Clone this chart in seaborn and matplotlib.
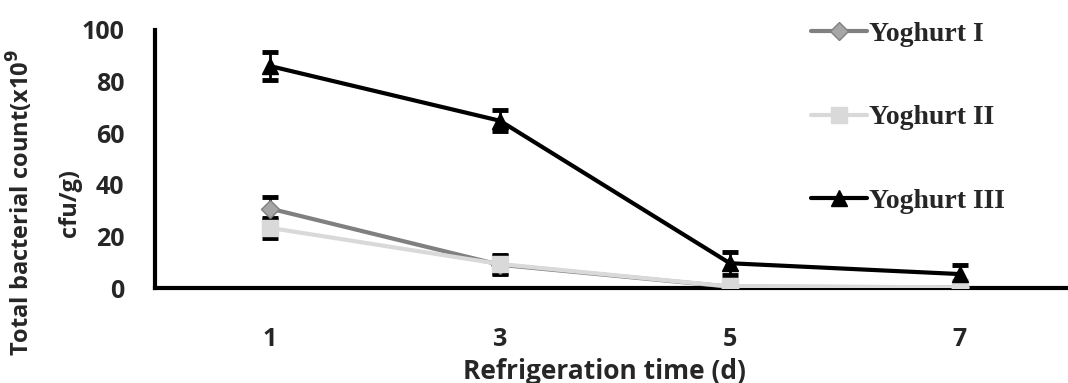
import matplotlib
matplotlib.use("Agg")
import matplotlib.pyplot as plt
import seaborn as sns
import pandas as pd
from matplotlib.lines import Line2D

# Refrigeration days and bacterial counts (x10^9 cfu/g), mean and error
days = [1, 3, 5, 7]
yoghurt_1 = [30.8, 9.0, 0.5, 0.3]
yoghurt_2 = [23.3, 9.3, 0.6, 0.3]
yoghurt_3 = [86.0, 64.8, 9.6, 5.4]
err_1 = [4.5, 3.5, 0.5, 0.3]
err_2 = [4.0, 3.5, 0.5, 0.3]
err_3 = [5.5, 4.0, 4.5, 3.5]
series_names = ["Yoghurt I", "Yoghurt II", "Yoghurt III"]

sns.set_theme(style="white")
plt.rcParams["font.family"] = ["Open Sans", "DejaVu Sans"]

rows = []
for name, vals in zip(series_names, [yoghurt_1, yoghurt_2, yoghurt_3]):
    for d, v in zip(days, vals):
        rows.append({"day": d, "count": v, "series": name})
df = pd.DataFrame(rows)

line_colors = {"Yoghurt I": "#808080", "Yoghurt II": "#d9d9d9", "Yoghurt III": "#000000"}
face_colors = {"Yoghurt I": "#a6a6a6", "Yoghurt II": "#d9d9d9", "Yoghurt III": "#000000"}
marker_map = {"Yoghurt I": "D", "Yoghurt II": "s", "Yoghurt III": "^"}
marker_size = {"Yoghurt I": 9, "Yoghurt II": 11, "Yoghurt III": 11}

fig = plt.figure(figsize=(10.68, 3.83), dpi=100)
ax = fig.add_axes([0.145, 0.248, 0.855, 0.674])

errs = {"Yoghurt I": err_1, "Yoghurt II": err_2, "Yoghurt III": err_3}
for i, name in enumerate(series_names):
    sub = df[df["series"] == name]
    ax.errorbar(sub["day"], sub["count"], yerr=errs[name], fmt="none",
                ecolor="black", elinewidth=2, capsize=6, capthick=3.5, zorder=2)
    sns.lineplot(data=sub, x="day", y="count", ax=ax, color=line_colors[name],
                 linewidth=3, marker=marker_map[name], markersize=marker_size[name],
                 markerfacecolor=face_colors[name], markeredgecolor=line_colors[name],
                 markeredgewidth=1, zorder=3 + i, legend=False)

ax.set_xlim(0, 7.94)
ax.set_ylim(0, 100)
ax.set_xticks(range(0, 8))
ax.set_xticklabels(["", "1", "", "3", "", "5", "", "7"])
ax.set_yticks([0, 20, 40, 60, 80, 100])
ax.tick_params(axis="x", direction="in", length=7, width=2.5, pad=28, labelsize=18)
ax.tick_params(axis="y", direction="in", length=7, width=2.5, pad=22, labelsize=18)
for lab in ax.get_xticklabels() + ax.get_yticklabels():
    lab.set_fontweight("bold")

for side in ["top", "right"]:
    ax.spines[side].set_visible(False)
for side in ["left", "bottom"]:
    ax.spines[side].set_linewidth(3)
    ax.spines[side].set_color("black")

ax.set_xlabel("")
ax.set_ylabel("")
fig.text(0.566, 0.03, "Refrigeration time (d)", ha="center", va="center",
         fontsize=19, fontweight="bold")
fig.text(0.019, 0.47, "Total bacterial count(x10$^{\\mathbf{9}}$", rotation=90,
         ha="center", va="center", fontsize=17, fontweight="bold")
fig.text(0.066, 0.47, "cfu/g)", rotation=90, ha="center", va="center",
         fontsize=17, fontweight="bold")

handles = [Line2D([0], [0], color=line_colors[n], linewidth=3, marker=marker_map[n],
                  markersize=marker_size[n], markerfacecolor=face_colors[n],
                  markeredgecolor=line_colors[n]) for n in series_names]
leg = fig.legend(handles, series_names, loc="upper left", bbox_to_anchor=(0.736, 1.01),
                 frameon=False, handlelength=2.0, handletextpad=0.1, labelspacing=2.1,
                 prop={"family": "Liberation Serif", "weight": "bold", "size": 20})

fig.savefig("out.png", dpi=100)
